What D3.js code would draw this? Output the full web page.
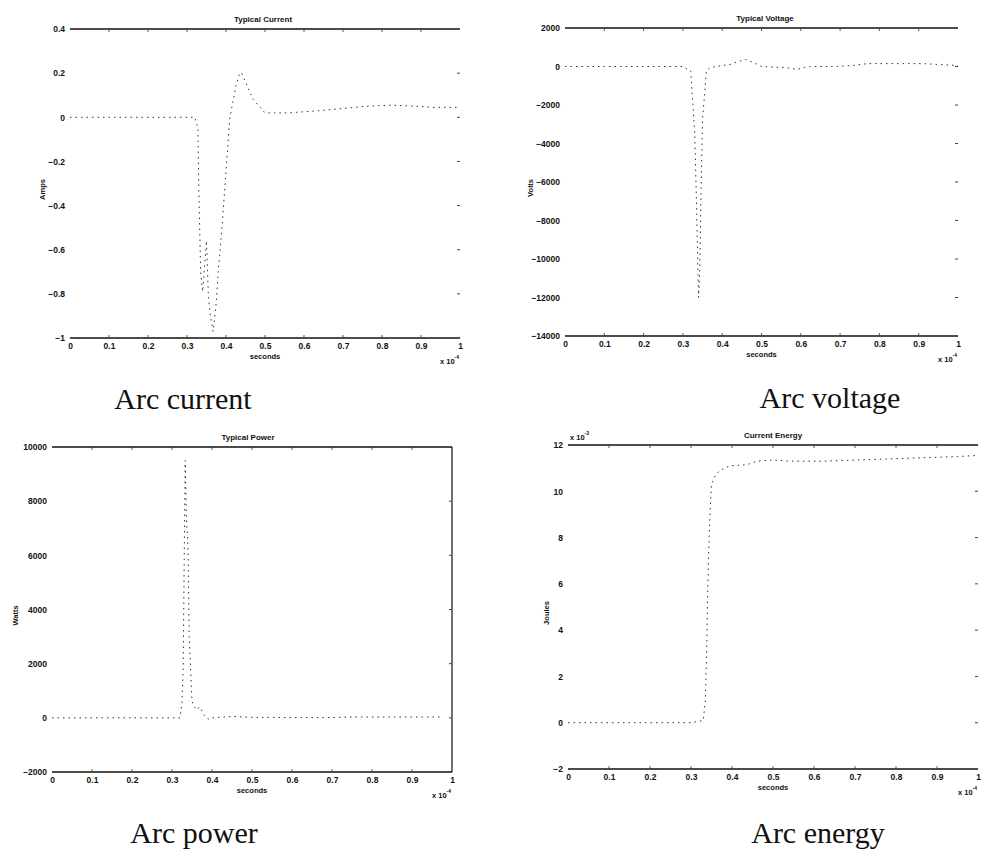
<!DOCTYPE html>
<html>
<head>
<meta charset="utf-8">
<script src="https://cdn.jsdelivr.net/npm/d3@7"></script>
<style>
  body { margin: 0; background: #fff; }
  .tick-label, .axis-title, .plot-title { font-family: 'Liberation Sans', Arial, sans-serif; font-weight: bold; fill: #111; }
  .caption { font-family: 'Liberation Serif', 'Times New Roman', serif; fill: #111; }
</style>
</head>
<body>
<script>
// Four scanned MATLAB-style waveform plots of an arc event

// Shared time ticks (x 10^-4 seconds)
var timeTicks = [ 0, 0.1, 0.2, 0.3, 0.4, 0.5, 0.6, 0.7, 0.8, 0.9, 1 ];

// Arc current
var currentTime = [ 0, 0.05, 0.1, 0.15, 0.2, 0.25, 0.3, 0.32, 0.328, 0.33, 0.335, 0.34, 0.35, 0.355,
  0.36, 0.367, 0.375, 0.38, 0.385, 0.39, 0.395, 0.40, 0.405, 0.41, 0.42, 0.425, 0.435, 0.44,
  0.47, 0.5, 0.56, 0.64, 0.70, 0.76, 0.82, 0.89, 0.93, 1.0 ];
var currentAmps = [ 0, 0, 0, 0, 0, 0, 0, 0, -0.05, -0.3, -0.7, -0.79, -0.56, -0.82,
  -0.9, -0.97, -0.84, -0.7, -0.6, -0.49, -0.37, -0.24, -0.12, 0, 0.09, 0.14, 0.2, 0.2,
  0.08, 0.02, 0.02, 0.03, 0.04, 0.05, 0.055, 0.05, 0.045, 0.045 ];
var currentTicks = [ -1, -0.8, -0.6, -0.4, -0.2, 0, 0.2, 0.4 ];

// Arc voltage
var voltageTime = [ 0, 0.1, 0.2, 0.3, 0.32, 0.33, 0.335, 0.338, 0.34, 0.343, 0.346, 0.35, 0.355,
  0.36, 0.37, 0.4, 0.42, 0.44, 0.46, 0.48, 0.5, 0.53, 0.56, 0.59, 0.61, 0.63, 0.68, 0.73,
  0.77, 0.85, 0.91, 1.0 ];
var voltageVolts = [ 0, 0, 0, 0, -250, -3400, -7400, -10500, -12000, -10500, -6600, -2700, -1500,
  -200, -50, 50, 100, 260, 360, 200, 0, -30, -50, -150, -50, 0, 0, 50,
  150, 150, 150, 50 ];
var voltageTicks = [ -14000, -12000, -10000, -8000, -6000, -4000, -2000, 0, 2000 ];

// Arc power
var powerTime = [ 0, 0.1, 0.2, 0.3, 0.32, 0.325, 0.328, 0.33, 0.333, 0.336, 0.34, 0.343, 0.346,
  0.35, 0.36, 0.37, 0.38, 0.39, 0.4, 0.45, 0.5, 0.6, 0.7, 0.75, 0.8, 0.9, 0.97 ];
var powerWatts = [ 0, 0, 0, 0, 0, 600, 1800, 5000, 9500, 7400, 6300, 3000, 2000,
  600, 300, 400, 100, -50, 0, 50, 20, 10, 10, 30, 30, 30, 30 ];
var powerTicks = [ -2000, 0, 2000, 4000, 6000, 8000, 10000 ];

// Arc energy (x 10^-3 joules)
var energyTime = [ 0, 0.1, 0.2, 0.3, 0.33, 0.335, 0.338, 0.34, 0.343, 0.346, 0.35, 0.36, 0.37,
  0.395, 0.437, 0.46, 0.5, 0.54, 0.62, 0.7, 0.785, 0.866, 0.95, 1.0 ];
var energyJoules = [ 0, 0, 0, 0, 0.1, 1, 3, 5, 7.3, 8.9, 10.3, 10.7, 10.9,
  11.1, 11.15, 11.3, 11.35, 11.3, 11.3, 11.35, 11.4, 11.45, 11.5, 11.55 ];
var energyTicks = [ -2, 0, 2, 4, 6, 8, 10, 12 ];

var svg = d3.select( 'body' ).append( 'svg' )
  .attr( 'width', 981 )
  .attr( 'height', 853 );

// Draw one plot panel into the svg
function drawPanel( p ) {
  var x = d3.scaleLinear().domain( [ 0, 1 ] ).range( [ p.left, p.right ] );
  var y = d3.scaleLinear().domain( p.yDomain ).range( [ p.bottom, p.top ] );

  var g = svg.append( 'g' ).attr( 'class', 'panel' );

  // Top and bottom frame lines (sides faded in the scan)
  g.append( 'line' )
    .attr( 'x1', p.left ).attr( 'x2', p.right )
    .attr( 'y1', p.top ).attr( 'y2', p.top )
    .attr( 'stroke', '#111' ).attr( 'stroke-width', 1.4 );
  g.append( 'line' )
    .attr( 'x1', p.left ).attr( 'x2', p.right )
    .attr( 'y1', p.bottom ).attr( 'y2', p.bottom )
    .attr( 'stroke', '#111' ).attr( 'stroke-width', 1.4 );
  if ( p.rightLine ) {
    g.append( 'line' )
      .attr( 'x1', p.right ).attr( 'x2', p.right )
      .attr( 'y1', p.top ).attr( 'y2', p.bottom )
      .attr( 'stroke', '#111' ).attr( 'stroke-width', 1.2 );
  }

  // Inward x ticks on top and bottom
  g.selectAll( '.xt' )
    .data( timeTicks.slice( 1, -1 ) )
    .enter().append( 'path' )
    .attr( 'd', function( d ) {
      return 'M' + x( d ) + ',' + p.top + 'v3M' + x( d ) + ',' + p.bottom + 'v-3';
    } )
    .attr( 'stroke', '#333' ).attr( 'stroke-width', 0.8 );

  // Inward y ticks on the right edge
  g.selectAll( '.yt' )
    .data( p.yTicks.slice( 1, -1 ) )
    .enter().append( 'line' )
    .attr( 'x1', p.right - 3 ).attr( 'x2', p.right )
    .attr( 'y1', function( d ) { return y( d ); } )
    .attr( 'y2', function( d ) { return y( d ); } )
    .attr( 'stroke', '#444' ).attr( 'stroke-width', 1 );

  // Y tick labels
  g.append( 'g' )
    .attr( 'transform', 'translate(' + ( p.left - 2 ) + ',0)' )
    .call( d3.axisLeft( y ).tickValues( p.yTicks ).tickSize( 0 ).tickFormat( p.yFormat ) )
    .call( function( a ) {
      a.select( '.domain' ).remove();
      a.selectAll( 'text' ).attr( 'class', 'tick-label' ).style( 'font-size', '8.5px' );
    } );

  // X tick labels
  g.append( 'g' )
    .attr( 'transform', 'translate(0,' + ( p.bottom + 2 ) + ')' )
    .call( d3.axisBottom( x ).tickValues( timeTicks ).tickSize( 0 ).tickFormat( d3.format( '~g' ) ) )
    .call( function( a ) {
      a.select( '.domain' ).remove();
      a.selectAll( 'text' ).attr( 'class', 'tick-label' ).style( 'font-size', '8.5px' );
    } );

  // Axis titles
  g.append( 'text' )
    .attr( 'class', 'axis-title' )
    .attr( 'x', ( p.left + p.right ) / 2 ).attr( 'y', p.bottom + 21 )
    .attr( 'text-anchor', 'middle' ).style( 'font-size', '7.5px' )
    .text( 'seconds' );

  g.append( 'text' )
    .attr( 'class', 'axis-title' )
    .attr( 'transform', 'translate(' + p.yLabelX + ',' + ( ( p.top + p.bottom ) / 2 + 6 ) + ') rotate(-90)' )
    .attr( 'text-anchor', 'middle' ).style( 'font-size', '7.5px' )
    .text( p.yLabel );

  // Exponent note under the x axis
  var xe = g.append( 'text' )
    .attr( 'class', 'axis-title' )
    .attr( 'x', p.right - 20 ).attr( 'y', p.bottom + 26 )
    .style( 'font-size', '7.5px' )
    .text( 'x 10' );
  xe.append( 'tspan' ).attr( 'dy', -5 ).style( 'font-size', '5px' ).text( '-4' );

  if ( p.yExponent ) {
    var ye = g.append( 'text' )
      .attr( 'class', 'axis-title' )
      .attr( 'x', p.left + 2 ).attr( 'y', p.top - 5 )
      .style( 'font-size', '7.5px' )
      .text( 'x 10' );
    ye.append( 'tspan' ).attr( 'dy', -5 ).style( 'font-size', '5px' ).text( p.yExponent );
  }

  // Plot title
  g.append( 'text' )
    .attr( 'class', 'plot-title' )
    .attr( 'x', p.titleX ).attr( 'y', p.top - 7 )
    .attr( 'text-anchor', 'middle' ).style( 'font-size', '8px' )
    .text( p.title );

  // Waveform, broken up like the faded scan
  var pts = p.time.map( function( t, i ) { return [ t, p.values[ i ] ]; } );
  g.append( 'path' )
    .datum( pts )
    .attr( 'fill', 'none' )
    .attr( 'stroke', '#333' )
    .attr( 'stroke-width', 1 )
    .attr( 'stroke-dasharray', '1.5,4' )
    .attr( 'd', d3.line()
      .x( function( d ) { return x( d[ 0 ] ); } )
      .y( function( d ) { return y( d[ 1 ] ); } ) );

  // Caption below the plot
  svg.append( 'text' )
    .attr( 'class', 'caption' )
    .attr( 'x', p.captionX ).attr( 'y', p.captionY )
    .attr( 'text-anchor', 'middle' ).style( 'font-size', '30px' )
    .text( p.caption );
}

drawPanel( {
  left: 70, right: 460, top: 29, bottom: 338,
  yDomain: [ -1, 0.4 ], yTicks: currentTicks, yFormat: d3.format( '~g' ),
  time: currentTime, values: currentAmps,
  title: 'Typical Current', titleX: 263, yLabel: 'Amps', yLabelX: 45,
  caption: 'Arc current', captionX: 183, captionY: 409
} );

drawPanel( {
  left: 565, right: 958, top: 28, bottom: 336,
  yDomain: [ -14000, 2000 ], yTicks: voltageTicks, yFormat: d3.format( 'd' ),
  time: voltageTime, values: voltageVolts,
  title: 'Typical Voltage', titleX: 765, yLabel: 'Volts', yLabelX: 533,
  caption: 'Arc voltage', captionX: 830, captionY: 408
} );

drawPanel( {
  left: 52, right: 452, top: 447, bottom: 772, rightLine: true,
  yDomain: [ -2000, 10000 ], yTicks: powerTicks, yFormat: d3.format( 'd' ),
  time: powerTime, values: powerWatts,
  title: 'Typical Power', titleX: 248, yLabel: 'Watts', yLabelX: 18,
  caption: 'Arc power', captionX: 194, captionY: 843
} );

drawPanel( {
  left: 568, right: 978, top: 445, bottom: 769,
  yDomain: [ -2, 12 ], yTicks: energyTicks, yFormat: d3.format( 'd' ),
  time: energyTime, values: energyJoules,
  title: 'Current Energy', titleX: 773, yLabel: 'Joules', yLabelX: 549, yExponent: '-3',
  caption: 'Arc energy', captionX: 818, captionY: 843
} );
</script>
</body>
</html>
